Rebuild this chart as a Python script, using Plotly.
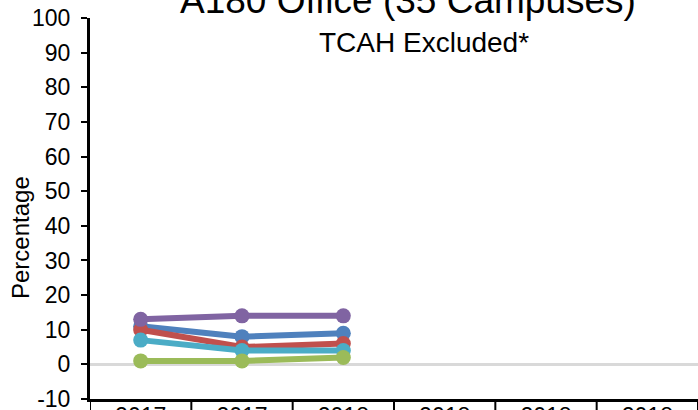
import plotly.graph_objects as go

categories = ["2017", "2017", "2018", "2018", "2018", "2018"]
series_names = ["Series A", "Series B", "Series C", "Series D", "Series E"]
series_values = {
    "Series A": [11, 8, 9, None, None, None],
    "Series B": [10, 5, 6, None, None, None],
    "Series C": [7, 4, 4, None, None, None],
    "Series D": [1, 1, 2, None, None, None],
    "Series E": [13, 14, 14, None, None, None],
}
series_colors = {
    "Series A": "#4F81BD",
    "Series B": "#C0504D",
    "Series C": "#4BACC6",
    "Series D": "#9BBB59",
    "Series E": "#8064A2",
}
y_ticks = list(range(-10, 101, 10))
y_tick_labels = [str(v) for v in y_ticks]

FONT = "Liberation Sans, Arial, sans-serif"
xs = list(range(len(categories)))

fig = go.Figure()
for name in series_names:
    fig.add_trace(go.Scatter(
        x=xs, y=series_values[name], name=name, mode="lines+markers",
        line=dict(color=series_colors[name], width=6),
        marker=dict(color=series_colors[name], size=15),
        showlegend=False,
    ))

W, H = 698, 410
L, R, T, B = 90, 0, 18, 11
pw, ph = W - L - R, H - T - B

def px_to_paper_x(px):
    return (px - L) / pw

def px_to_paper_y(py):
    return (H - B - py) / ph

# category boundary tick lines below the axis
for k in range(len(categories) + 1):
    fig.add_shape(type="line", xref="x", yref="paper",
                  x0=k - 0.5, x1=k - 0.5, y0=0, y1=-0.2,
                  line=dict(color="black", width=2), layer="above")

fig.add_annotation(text="A180 Office (35 Campuses)", xref="paper", yref="paper",
                   x=px_to_paper_x(408), y=px_to_paper_y(0), xanchor="center",
                   yanchor="middle", showarrow=False,
                   font=dict(family=FONT, size=37, color="black"))
fig.add_annotation(text="TCAH Excluded*", xref="paper", yref="paper",
                   x=px_to_paper_x(424), y=px_to_paper_y(43), xanchor="center",
                   yanchor="middle", showarrow=False,
                   font=dict(family=FONT, size=28, color="black"))
fig.add_annotation(text="Percentage", xref="paper", yref="paper",
                   x=px_to_paper_x(21), y=px_to_paper_y(238), xanchor="center",
                   yanchor="middle", showarrow=False, textangle=-90,
                   font=dict(family=FONT, size=24, color="black"))

fig.update_layout(
    width=W, height=H,
    margin=dict(l=L, r=R, t=T, b=B, pad=0, autoexpand=False),
    paper_bgcolor="white", plot_bgcolor="white",
    font=dict(family=FONT, color="black"),
    xaxis=dict(range=[-0.5, len(categories) - 0.5], tickvals=xs, ticktext=categories,
               showgrid=False, zeroline=False, showline=True, linecolor="black",
               linewidth=3, ticks="", tickfont=dict(size=23, family=FONT),
               ticklabelstandoff=-6, ticklabeloverflow="allow",
               fixedrange=True, automargin=False),
    yaxis=dict(range=[-10, 100], tickvals=y_ticks, ticktext=y_tick_labels,
               showgrid=False,
               zeroline=True, zerolinecolor="#D9D9D9", zerolinewidth=3,
               showline=True, linecolor="black", linewidth=3,
               ticks="outside", ticklen=6, tickwidth=2, tickcolor="black",
               tickfont=dict(size=23, family=FONT), ticklabelstandoff=6,
               ticklabeloverflow="allow",
               fixedrange=True, automargin=False),
)

fig.write_html(
    "out.html",
    config={"displayModeBar": False},
    post_script="document.body.style.margin='0';document.body.style.overflow='hidden';",
)
